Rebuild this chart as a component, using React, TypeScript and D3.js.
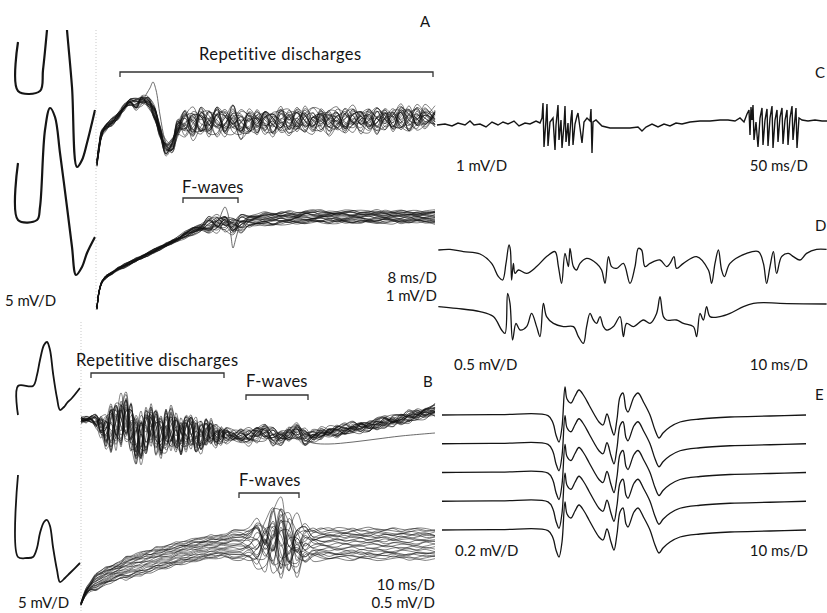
import React from 'react';
import * as d3 from 'd3';

// ---------- panel A, compressed M-waves (ms, mV) ----------
const aMwaveTop: [number, number][] = [
  [0, 4.9], [0, 0], [11, 0], [12.5, 2.1], [14.5, 6.1], [17, 12.1], [19.5, 14.1], [22, 12.1],
  [24.5, 6.1], [27, 0.4], [29.5, -7.6], [32, -6.9], [34.5, -5.2], [38.5, -1.9]
];
const aMwaveBottom: [number, number][] = [
  [0, 5.7], [0, 0], [9.5, 0], [11, 1.3], [13.5, 9], [16, 11.2], [18.5, 10.3], [21, 6.7],
  [24.5, 1.3], [27, -2.7], [29, -5.5], [32, -4.7], [34.5, -3.3], [38.5, -1.7]
];
// ---------- panel B, M-waves ----------
const bMwaveTop: [number, number][] = [
  [0, -2.9], [0, 0], [7.5, 0], [9.5, 1.1], [11, 2.6], [13, 4.1], [14.5, 4.4], [16, 3.6],
  [17.5, 1.3], [19.5, -1.2], [21, -2.4], [23, -2.1], [24.5, -1.7], [27, -1.2], [31, -0.2]
];
const bMwaveBottom: [number, number][] = [
  [0, 8.2], [0, 0], [4.5, -0.1], [7.5, 0], [9.5, 0.9], [11, 2.4], [13, 3.5], [14.5, 3.7],
  [16, 3.1], [17.5, 1.0], [19.5, -1.3], [21, -2.5], [23.5, -2.1], [26, -1.6], [31, -0.6]
];

// ---------- panel A superimposed sweeps ----------
const aKnotsMs = [0, 0.5, 1.25, 2.25, 3.75, 5.25, 6.75, 8.25, 9.75, 11.25, 12.75, 14.25, 15.75, 17.25, 18.75, 20.25,
  22, 24, 26, 28, 30, 32, 34, 36, 38, 40, 42, 44, 46, 48, 50, 52, 54, 56, 58, 60, 62, 64, 66, 68, 70, 72, 74, 76, 78, 80, 82, 84.5];
const aRepBase = [-1.9, -1.15, -0.4, -0.1, 0.15, 0.45, 0.85, 1.15, 1.05, 1.25, 1.15, 0.65, -0.35, -1.15, -1.05, -0.15,
  0.15, 0.05, 0.25, 0.05, 0.2, 0.1, 0.25, 0, 0.15, 0.1, 0.2, 0.1, 0.25, 0.15, 0.2, 0.25,
  0.2, 0.25, 0.15, 0.25, 0.2, 0.3, 0.2, 0.25, 0.25, 0.3, 0.25, 0.35, 0.3, 0.35, 0.35, 0.35];
const aRepNoise = [0.15, 0.15, 0.15, 0.15, 0.15, 0.15, 0.15, 0.15, 0.25, 0.25, 0.25, 0.35, 0.35, 0.35, 0.35, 0.45,
  0.7, 0.75, 0.75, 0.75, 0.7, 0.7, 0.7, 0.7, 0.7, 0.7, 0.7, 0.65, 0.65, 0.65, 0.65, 0.65,
  0.6, 0.6, 0.6, 0.6, 0.6, 0.6, 0.6, 0.6, 0.6, 0.6, 0.65, 0.65, 0.6, 0.6, 0.55, 0.55];
const aRepLevel = [0.1, 0.1, 0.1, 0.1, 0.1, 0.1, 0.1, 0.1, 0.1, 0.1, 0.1, 0.1, 0.1, 0.1, 0.1, 0.1,
  0.2, 0.2, 0.2, 0.2, 0.2, 0.2, 0.2, 0.2, 0.2, 0.2, 0.2, 0.2, 0.2, 0.2, 0.2, 0.2,
  0.2, 0.2, 0.2, 0.2, 0.2, 0.2, 0.2, 0.2, 0.2, 0.2, 0.2, 0.2, 0.2, 0.2, 0.2, 0.2];
const aRepOutlier: [number, number][] = [[11.25, 1.15], [12.5, 1.6], [13.25, 1.85], [14, 2.15], [14.75, 1.75],
  [15.75, 0.5], [17, -0.75], [18.25, -1.25], [20, -0.5], [22, 0.1]];

const aFBase = [-4.4, -3.6, -3.1, -2.85, -2.65, -2.45, -2.3, -2.15, -2.0, -1.85, -1.7, -1.55, -1.4, -1.25, -1.1, -0.95,
  -0.75, -0.55, -0.4, -0.25, -0.2, -0.15, -0.3, -0.15, -0.05, 0, 0.05, 0.05, 0.1, 0.1, 0.1,
  0.15, 0.15, 0.15, 0.15, 0.15, 0.15, 0.15, 0.15, 0.15, 0.15, 0.15, 0.15, 0.15, 0.15, 0.15, 0.15, 0.15];
const aFNoise = [0.06, 0.06, 0.06, 0.06, 0.06, 0.06, 0.06, 0.06, 0.06, 0.06, 0.06, 0.06, 0.06, 0.06, 0.06, 0.06,
  0.1, 0.1, 0.1, 0.4, 0.4, 0.4, 0.4, 0.4,
  0.1, 0.1, 0.1, 0.1, 0.1, 0.1, 0.1, 0.1, 0.1, 0.1, 0.1, 0.1, 0.1, 0.1, 0.1, 0.1, 0.1, 0.1, 0.1, 0.1, 0.1, 0.1, 0.1, 0.1];
const aFLevel = [0.04, 0.04, 0.04, 0.04, 0.04, 0.04, 0.08, 0.08, 0.08, 0.08, 0.08, 0.08, 0.08, 0.08, 0.08, 0.08,
  0.15, 0.15, 0.15, 0.15, 0.15, 0.15, 0.15, 0.15,
  0.3, 0.3, 0.3, 0.3, 0.3, 0.3, 0.3, 0.3, 0.3, 0.3, 0.3, 0.3, 0.3, 0.3, 0.3, 0.3, 0.3, 0.3, 0.3, 0.3, 0.3, 0.3, 0.3, 0.3];
const aFOutlier: [number, number][] = [[28, -0.25], [30.25, -0.1], [31.25, 0.4], [32, 0.65], [32.75, 0.3],
  [33.5, -0.8], [34, -1.4], [34.75, -0.9], [35.75, -0.3], [37, -0.1]];

// ---------- panel B superimposed sweeps ----------
const bKnotsMs = [0, 1.25, 2.5, 3.75, 5, 6.25, 7.5, 8.75, 10, 11.25, 12.5, 13.75, 15, 16.25, 17.5, 18.75, 20, 21.25,
  22.5, 23.75, 25, 26.25, 27.5, 28.75, 30, 31.25, 32.5, 33.75, 35, 36.25,
  38, 40, 42, 44, 46, 48, 50, 52, 54, 56, 58, 60, 62, 64, 66, 68, 70, 72, 74, 76, 78, 80, 82, 84, 86, 88.5];
const bRepBase = [0.5, 0.5, 0.55, 0.45, 0.2, -0.1, 0.1, 0.2, 0.5, 0.6, 0.1, -0.5, -0.4, 0, 0.25, -0.1, -0.4, -0.1,
  0.1, -0.15, -0.4, -0.1, 0, -0.3, -0.35, -0.15, -0.1, -0.3, -0.3, -0.25,
  -0.3, -0.3, -0.35, -0.2, -0.1, -0.3, -0.4, -0.2, -0.1, -0.35, -0.3, -0.2, -0.1, -0.05, 0, 0.1, 0.15, 0.2,
  0.3, 0.4, 0.45, 0.55, 0.65, 0.75, 0.85, 1.0];
const bRepNoise = [0.15, 0.15, 0.15, 0.3, 0.6, 0.9, 1.4, 1.4, 1.4, 1.4, 1.4, 1.4, 1.4, 1.4,
  1.2, 1.2, 1.2, 1.2, 1.2, 1.2, 1.1, 1.1, 1.0, 1.0, 0.9, 0.8, 0.7, 0.6, 0.5, 0.4,
  0.25, 0.3, 0.4, 0.4, 0.4, 0.4, 0.4, 0.4, 0.4, 0.4,
  0.25, 0.25, 0.25, 0.25, 0.25, 0.25, 0.25, 0.25, 0.25, 0.25, 0.25, 0.25, 0.25, 0.25, 0.25, 0.25];
const bRepLevel = [0.1, 0.1, 0.1, 0.1, 0.1, 0.1, 0.1, 0.1, 0.1, 0.1, 0.1, 0.1, 0.1, 0.1, 0.1, 0.1, 0.1, 0.1,
  0.1, 0.1, 0.1, 0.1, 0.1, 0.1, 0.1, 0.1, 0.1, 0.1, 0.1, 0.1,
  0.15, 0.15, 0.15, 0.15, 0.15, 0.15, 0.15, 0.15, 0.15, 0.15, 0.15, 0.15, 0.15, 0.15, 0.15, 0.15, 0.15, 0.15,
  0.15, 0.15, 0.15, 0.15, 0.15, 0.15, 0.15, 0.15];
const bRepOutlier: [number, number][] = [[54, -0.35], [58, -0.65], [62, -0.7], [68, -0.6], [74, -0.45], [80, -0.3], [88.5, -0.15]];

const bFBase = [-2.95, -2.35, -2.05, -1.85, -1.7, -1.55, -1.45, -1.35, -1.25, -1.15, -1.1, -1.0, -0.95, -0.85,
  -0.8, -0.7, -0.65, -0.6, -0.55, -0.45, -0.4, -0.35, -0.3, -0.25, -0.2, -0.15, -0.1, -0.1, -0.05, -0.05,
  0, 0, 0.05, 0.1, 0.1, 0.25, 0.25, -0.15, -0.05, 0.05, 0.05,
  0.05, 0.05, 0.05, 0.05, 0.05, 0.05, 0.05, 0.05, 0.05, 0.05, 0.05, 0.05, 0.05, 0.05, 0.05];
const bFNoise = [0.05, 0.05, 0.05, 0.05, 0.05, 0.05, 0.05, 0.05, 0.05, 0.05, 0.05, 0.05, 0.05, 0.05, 0.05, 0.05,
  0.05, 0.05, 0.05, 0.05, 0.05, 0.05, 0.05, 0.05, 0.05, 0.05, 0.05, 0.05, 0.05, 0.05, 0.05, 0.05,
  0.3, 0.6, 1.0, 1.4, 1.8, 1.6, 1.0, 0.5, 0.2,
  0.1, 0.1, 0.1, 0.1, 0.1, 0.1, 0.1, 0.1, 0.1, 0.1, 0.1, 0.1, 0.1, 0.1, 0.1];
const bFLevel = [0.05, 0.15, 0.25, 0.45, 0.45, 0.45, 0.45, 0.45, 0.45,
  0.6, 0.6, 0.6, 0.6, 0.6, 0.6, 0.6, 0.6, 0.6, 0.6, 0.6, 0.6, 0.6, 0.6, 0.6, 0.6, 0.6, 0.6, 0.6, 0.6, 0.6,
  0.8, 0.8, 0.8, 0.8, 0.8, 0.8, 0.8, 0.8, 0.8, 0.8, 0.8, 0.8, 0.8, 0.8, 0.8, 0.8, 0.8, 0.8, 0.8, 0.8,
  0.8, 0.8, 0.8, 0.8, 0.8, 0.8];

// per-sweep level and wiggle (tenths), read as two sets of overlaid sweeps
const sweepLevels = [0.9, -0.4, 0.2, -0.8, 0.5, -0.1, 0.7, -0.6, 0.0, 0.35, -0.95, 0.6];
const sweepLevels2 = [-0.3, 0.8, -0.7, 0.1, -0.5, 0.95, -0.2, 0.45, -0.85, 0.6, 0.25, -0.6];
const sweepJitter = [
  [3, -5, 7, -2, -8, 4, 6, -3, 1, -7, 5, 8, -4, -1, 6, -6, 2, 9, -5, -3, 7, -8, 0, 4, -2, 6, -9, 3, 5, -4, -7, 2, 8, -1, -5, 6, 3, -6, 4, -2, 7, -3, -8, 5, 1, -4, 6, -7, 2, 9, -5, 3, -1, -6, 4, 7],
  [-4, 6, -1, 8, -3, -7, 2, 5, -6, 3, 9, -2, -5, 7, 0, -8, 4, -3, 6, 1, -9, 5, -2, 7, -4, -6, 3, 8, -1, 5, -7, 4, -3, 9, 2, -5, -8, 6, 1, -4, 3, 7, -6, -2, 8, -5, 4, 0, -7, 3, 6, -3, -8, 5, 2, -4],
  [7, 2, -6, -4, 5, 9, -3, -8, 6, 0, -5, 4, 7, -9, 3, 5, -2, -6, 8, -1, 4, -7, 6, 2, -5, 9, -3, -8, 4, 1, 6, -5, -2, 7, -8, 3, 5, -4, -9, 6, 2, -1, 4, -7, -3, 8, -6, 5, 1, -2, -8, 7, 4, -3, 6, -5],
  [-2, -8, 4, 6, -1, -5, 9, 2, -7, 4, -3, -6, 8, 1, -4, 7, 5, -9, -2, 6, 3, -5, -8, 4, 7, -1, 5, -6, -3, 8, 2, -7, 6, 4, -5, -2, 9, 1, -6, -8, 5, 3, -4, 7, -1, -6, 8, 2, -9, 4, 5, -3, 6, -7, -1, 3],
  [5, -3, -9, 1, 7, -4, -2, 6, 8, -5, 2, -1, -7, 4, 9, -3, -6, 5, 1, -8, 7, 3, -4, -6, 8, 2, -5, 1, 9, -7, -4, 6, -1, -3, 8, 5, -7, 2, 6, -9, -4, 7, 1, -5, 3, 6, -2, -8, 4, 9, -6, -1, 5, 2, -7, 8],
  [-6, 4, 2, -9, -3, 8, 5, -1, -4, 7, -8, 3, 6, -2, -5, 1, 8, -4, -7, 9, -1, -3, 5, 8, -6, -2, 7, 4, -8, -3, 9, -5, 1, 6, -4, -7, 2, 8, -3, 5, -6, 1, 9, -2, -5, 4, -8, 6, 3, -7, 1, 8, -4, -6, 5, -2],
  [1, 8, -5, 3, 6, -2, -9, 4, 3, -6, 7, 5, -3, -8, 2, 6, -7, 1, 4, -5, 8, -6, -3, 9, 2, -4, -7, 6, 3, -8, 5, 1, -6, -2, 7, -9, 4, 6, -5, 2, 8, -3, -7, 4, -1, 9, 2, -6, -4, 5, 8, -5, -2, 7, 3, -9],
  [-8, -1, 6, 5, -7, 2, 3, -6, -5, 9, 1, -4, -2, 6, -8, -3, 7, 2, -6, 4, -2, 9, -7, -5, 3, 5, -1, -9, 7, 4, -3, -6, 5, 1, -2, 8, -4, -3, 7, 9, -7, -4, 2, 6, -8, -3, 5, -1, 7, -4, -3, 9, -6, 1, -8, 4],
  [4, -7, -2, 9, 2, -6, 7, -9, -2, 5, 6, -8, 3, 4, -6, 9, -4, -7, 5, 3, -5, -1, 8, -3, -8, 6, 4, -2, -6, 9, -1, -4, 7, -8, 3, 6, -5, -1, 8, -4, -2, 5, -9, 3, 7, -1, -6, 4, 5, -9, 2, 6, -3, -5, 8, -1],
  [-3, 5, 8, -6, -4, 1, -5, 7, 9, -3, -6, 2, -9, 5, 1, -4, 3, 6, -8, -2, 9, 4, -6, 1, 5, -8, 2, 6, -4, -5, 8, 3, -9, 2, 5, -3, -6, 7, 2, -7, 6, -5, 3, 8, -6, -2, 1, -9, 6, 2, -4, -7, 8, 3, -2, 5],
  [6, -2, -4, -7, 8, 3, -1, 5, -9, -4, 3, 7, 1, -6, 7, -5, -8, 3, 6, -4, -6, 8, 2, -7, -3, 4, 8, -5, 1, -6, 3, 7, -4, -5, 6, 2, -1, -8, 5, 3, -9, 8, 5, -6, 2, -7, -3, 7, -5, 1, 9, -4, -5, 6, -3, 2],
  [-5, 3, 1, 4, -6, -9, 8, 1, 4, -8, -2, 6, 5, -3, -7, 4, 6, -8, 3, 7, -4, -2, 9, -6, 1, -7, 5, 2, -8, 3, -6, 9, -2, -7, 4, 1, 6, -5, -3, 7, -8, 2, 4, -3, 9, -8, 6, -4, -2, 7, -5, 3, -9, 6, 4, -6]
];

// ---------- panel C (ms, mV) ----------
const cTrace: [number, number][] = [
  [0, -0.15], [16, -0.1], [30, -0.2], [42, -0.05], [56, -0.15], [66, 0.05], [74, -0.15], [86, -0.1], [98, -0.25],
  [110, 0], [122, -0.15], [132, 0], [142, -0.1], [154, 0.05], [164, -0.2], [176, -0.05], [186, -0.1], [198, 0.05],
  [206, -0.05], [210, 0.2], [212, 0.95], [214, -1.25], [218, 0.1], [220, 0.9], [222, -1.2], [226, 0], [232, 0.2],
  [236, -1.4], [238, -0.15], [242, 0.85], [244, -0.9], [248, 0.1], [250, -1.3], [254, -0.15], [256, 0.8], [258, -1.0],
  [262, -0.05], [264, -1.2], [268, 0.2], [270, 0.6], [272, -1.15], [276, -0.1], [280, 0.3], [282, 0.45], [286, -0.3],
  [290, -1.05], [294, 0], [300, 0.2], [306, 0.05], [308, 0.65], [310, -1.55], [312, 0], [318, 0.1], [330, -0.2],
  [346, -0.3], [366, -0.3], [386, -0.3], [402, -0.25], [410, -0.45], [418, -0.25], [430, -0.1], [442, -0.25],
  [454, -0.1], [466, -0.2], [478, -0.05], [490, -0.1], [506, 0], [526, 0.05], [546, 0.05], [566, 0.1], [582, 0.1],
  [596, 0.05], [606, 0.2], [614, 0], [620, 0.4], [624, 0.6], [626, -0.65], [628, 0.75], [630, 0.1], [632, 0.85],
  [634, -0.9], [638, 0], [642, -1.25], [646, 0.2], [650, 0.7], [652, -1.15], [656, 0.1], [660, 0.65], [662, -1.2],
  [666, 0.2], [670, 0.8], [672, -1.3], [676, 0.1], [680, 0.6], [682, -1.0], [686, 0.25], [690, 0.7], [692, -1.1],
  [696, 0.1], [700, 0.6], [702, -1.15], [706, 0.2], [710, 0.8], [712, -0.9], [716, 0.2], [718, 0.7], [720, -1.3],
  [724, 0.2], [730, 0.1], [742, 0.05], [756, 0.1], [770, 0.05], [780, 0.05]
];

// ---------- panel D ----------
const dTraceTop: [number, number][] = [
  [0.67, 0.1], [6.5, 0.13], [13.2, 0.02], [21.5, -0.1], [27.3, -0.57], [30.7, -1.23], [32.8, -1.4], [34.5, -0.57],
  [36, 0.35], [36.7, 0.1], [37.3, -1.4], [38.2, -0.57], [39, -1.07], [40.7, -0.9], [44.8, -1.07], [49.8, -0.73],
  [54.8, -0.23], [59, 0.02], [60.7, -0.73], [62.3, -1.57], [64, -0.07], [65.7, -0.73], [66.5, 0.18], [68.2, -0.73],
  [69.8, -0.9], [71.5, -0.57], [74.8, -0.32], [79.8, -0.57], [82.3, -0.9], [84, -1.57], [85.7, -0.23], [87.3, -0.73],
  [89.8, -0.82], [93.2, -0.57], [96.5, -1.57], [99, -0.73], [100.7, 0.18], [102.3, 0.1], [104, -0.73], [106.5, -0.57],
  [111.5, -0.4], [114.8, -0.73], [116.5, -0.57], [118.5, -0.23], [119.8, -0.82], [123.2, -0.57], [129.8, -0.23],
  [135.7, -0.9], [137.3, -1.57], [139, -0.57], [140.7, 0.1], [142.3, -0.9], [143.7, -1.23], [146.5, -0.57],
  [154.8, -0.07], [160.7, 0.02], [163.2, -0.57], [164.8, -1.57], [166.5, -0.73], [168.2, 0.02], [169.8, -1.07],
  [172.3, -0.23], [175.7, -0.07], [178.2, -0.23], [181.5, -0.4], [184.8, -0.07], [189.8, 0.13], [194.8, 0.13]
];
const dTraceBottom: [number, number][] = [
  [0.67, -0.18], [9.8, -0.27], [21.5, -0.43], [28.2, -0.68], [32.3, -1.35], [34, -1.52], [35.3, 0.48], [36.5, -0.02],
  [37.8, -1.85], [39.5, -1.02], [41.5, -1.35], [44.8, -1.18], [47.3, -0.52], [49.8, -1.18], [51.5, -1.68],
  [53.2, -0.02], [54.8, -0.68], [58.2, -1.02], [63.2, -1.18], [68.2, -1.18], [70.7, -1.68], [73.2, -2.02],
  [74.8, -1.18], [76.5, -0.52], [78.2, -0.85], [79.8, -1.02], [81.5, -0.68], [83.2, -1.18], [84.8, -1.35],
  [88.2, -1.18], [91.5, -0.68], [93.2, -1.68], [94.8, -1.02], [98.2, -1.18], [103.2, -0.85], [106.5, -1.02],
  [109.8, -0.52], [111.5, 0.32], [113.2, -0.68], [114.8, -0.85], [119.8, -0.85], [123.2, -1.02], [128.2, -1.18],
  [129.8, -1.68], [131.5, -0.52], [133.2, -0.85], [134.8, -0.18], [136.5, -0.68], [141.5, -0.68], [146.5, -0.52],
  [153.2, -0.18], [158.2, -0.02], [163.2, 0.02], [171.5, -0.02], [194.8, -0.05]
];

// ---------- panel E, five repeated responses ----------
const eWave: [number, number][] = [
  [0, 0], [14.5, 0.02], [26.5, -0.03], [27.75, -0.4], [28.5, -1.0], [29.25, -1.35], [30, -0.6], [30.75, 1.4],
  [31.25, 0.8], [32.25, 0.6], [33.25, 0.95], [34.25, 1.25], [35.5, 0.95], [36.75, 0.5], [38, 0.05], [39.25, -0.35],
  [40.25, -0.5], [41.25, 0.05], [42.25, -0.6], [43, -1.0], [43.75, -0.2], [44.5, 0.9], [45.25, 1.1], [46, 0.3],
  [46.5, 0.15], [48, 0.9], [49, 1.1], [50.5, 0.6], [52, 0], [53.25, -0.75], [54.25, -1.15], [55.25, -0.9], [57, -0.6],
  [59.5, -0.35], [64.5, -0.2], [72, -0.1], [82, -0.05], [91, 0]
];
const eRows = ['1', '2', '3', '4', '5'];

const W = 827, H = 613;
const FONT = "Lato, 'Open Sans', sans-serif";
const INK = '#151515';

const yAt = (base: number, pxPerUnit: number) => d3.scaleLinear().domain([0, 1]).range([base, base - pxPerUnit]);

function makeLine(x: d3.ScaleLinear<number, number>, y: d3.ScaleLinear<number, number>, curve: d3.CurveFactory = d3.curveCatmullRom.alpha(0.5)) {
  return d3.line<[number, number]>().x(d => x(d[0])).y(d => y(d[1])).curve(curve);
}

// one path per recorded sweep: shared response + that sweep's level and wiggle
function sweeps(knots: number[], base: number[], noise: number[], level: number[], offset: number): [number, number][][] {
  const sets: [number[], number][] = [[sweepLevels, offset], [sweepLevels2, offset + 29]];
  const out: [number, number][][] = [];
  sets.forEach(([levels, off]) => {
    sweepJitter.forEach((row, s) => {
      out.push(knots.map((t, i) => [t, base[i] + level[i] * levels[s] + noise[i] * row[(i + off) % row.length] / 10] as [number, number]));
    });
  });
  return out;
}

function Bracket({ x1, x2, y }: { x1: number; x2: number; y: number }) {
  return <path d={`M${x1},${y + 5}V${y}H${x2}V${y + 5}`} fill="none" stroke="#333" strokeWidth={1.3} />;
}

function Label({ x, y, children, anchor = 'start', size = 15, spacing = 0 }: { x: number; y: number; children: React.ReactNode; anchor?: string; size?: number; spacing?: number }) {
  return <text x={x} y={y} textAnchor={anchor} fontFamily={FONT} fontSize={size} letterSpacing={spacing} fill={INK}>{children}</text>;
}

export default function App() {
  // panel A scales
  const axM = d3.scaleLinear().domain([0, 39]).range([18, 96]);
  const ax = d3.scaleLinear().domain([0, 84.5]).range([97, 435]);
  const aLineTop = makeLine(axM, yAt(91, 10));
  const aLineBottom = makeLine(axM, yAt(220, 10));
  const aRep = makeLine(ax, yAt(125, 20));
  const aF = makeLine(ax, yAt(220, 20));
  // panel B scales
  const bxM = d3.scaleLinear().domain([0, 31]).range([18, 80]);
  const bx = d3.scaleLinear().domain([0, 88.5]).range([81, 435]);
  const bLineTop = makeLine(bxM, yAt(386, 10));
  const bLineBottom = makeLine(bxM, yAt(557, 10));
  const bRep = makeLine(bx, yAt(430, 20));
  const bF = makeLine(bx, yAt(545, 20));
  // right column
  const cx = d3.scaleLinear().domain([0, 780]).range([437, 827]);
  const cLine = makeLine(cx, yAt(122, 20), d3.curveLinear);
  const dx = d3.scaleLinear().domain([0, 195]).range([437, 827]);
  const dTop = makeLine(dx, yAt(252, 20));
  const dBot = makeLine(dx, yAt(303, 20));
  const ex = d3.scaleLinear().domain([0, 91]).range([442, 806]);
  const eBand = d3.scalePoint<string>().domain(eRows).range([415, 530]);

  const sweepStyle = { fill: 'none', stroke: '#111', strokeWidth: 0.7, strokeOpacity: 0.75 };
  const outlierStyle = { fill: 'none', stroke: '#444', strokeWidth: 0.8 };
  const thick = { fill: 'none', stroke: INK, strokeWidth: 2.2, strokeLinejoin: 'round' as const };

  return (
    <svg width={W} height={H} style={{ position: 'absolute', left: 0, top: 0, background: '#fff' }}>
      <defs>
        <clipPath id="clipAM"><rect x={0} y={30} width={96} height={280} /></clipPath>
      </defs>
      <rect width={W} height={H} fill="#fff" />

      {/* ---------- A ---------- */}
      <g clipPath="url(#clipAM)">
        <path d={aLineTop(aMwaveTop) || ''} {...thick} />
        <path d={aLineBottom(aMwaveBottom) || ''} {...thick} />
      </g>
      <line x1={96} x2={96} y1={30} y2={310} stroke="#bbb" strokeWidth={0.8} strokeDasharray="1 2" />
      {sweeps(aKnotsMs, aRepBase, aRepNoise, aRepLevel, 0).map((s, i) => <path key={'ar' + i} d={aRep(s) || ''} {...sweepStyle} />)}
      <path d={aRep(aRepOutlier) || ''} {...outlierStyle} />
      {sweeps(aKnotsMs, aFBase, aFNoise, aFLevel, 17).map((s, i) => <path key={'af' + i} d={aF(s) || ''} {...sweepStyle} />)}
      <path d={aF(aFOutlier) || ''} {...outlierStyle} />
      <Label x={420} y={27}>A</Label>
      <Label x={199} y={60} size={16.5} spacing={0.45}>Repetitive discharges</Label>
      <Bracket x1={120} x2={433} y={72} />
      <Label x={182} y={193} size={16.5} spacing={0.2}>F-waves</Label>
      <Bracket x1={183} x2={238} y={198} />
      <Label x={437} y={283} anchor="end">8 ms/D</Label>
      <Label x={437} y={301} anchor="end">1 mV/D</Label>
      <Label x={5} y={306}>5 mV/D</Label>

      {/* ---------- B ---------- */}
      <path d={bLineTop(bMwaveTop) || ''} {...thick} strokeWidth={1.8} />
      <path d={bLineBottom(bMwaveBottom) || ''} {...thick} strokeWidth={1.8} />
      <line x1={81} x2={81} y1={322} y2={613} stroke="#bbb" strokeWidth={0.8} strokeDasharray="1 2" />
      {sweeps(bKnotsMs, bRepBase, bRepNoise, bRepLevel, 5).map((s, i) => <path key={'br' + i} d={bRep(s) || ''} {...sweepStyle} />)}
      <path d={bRep(bRepOutlier) || ''} {...outlierStyle} />
      {sweeps(bKnotsMs, bFBase, bFNoise, bFLevel, 31).map((s, i) => <path key={'bf' + i} d={bF(s) || ''} {...sweepStyle} />)}
      <Label x={76} y={366} size={16.5} spacing={0.45}>Repetitive discharges</Label>
      <Bracket x1={91} x2={224} y={373} />
      <Label x={246} y={387} size={16.5} spacing={0.2}>F-waves</Label>
      <Bracket x1={246} x2={308} y={395} />
      <Label x={423} y={387}>B</Label>
      <Label x={239} y={486} size={16.5} spacing={0.2}>F-waves</Label>
      <Bracket x1={239} x2={299} y={493} />
      <Label x={435} y={590} anchor="end">10 ms/D</Label>
      <Label x={435} y={608} anchor="end">0.5 mV/D</Label>
      <Label x={18} y={608}>5 mV/D</Label>

      {/* ---------- C ---------- */}
      <path d={cLine(cTrace) || ''} fill="none" stroke={INK} strokeWidth={1.4} />
      <Label x={456} y={171}>1 mV/D</Label>
      <Label x={808} y={171} anchor="end">50 ms/D</Label>
      <Label x={815} y={78}>C</Label>

      {/* ---------- D ---------- */}
      <path d={dTop(dTraceTop) || ''} fill="none" stroke={INK} strokeWidth={1.3} />
      <path d={dBot(dTraceBottom) || ''} fill="none" stroke={INK} strokeWidth={1.3} />
      <Label x={454} y={370}>0.5 mV/D</Label>
      <Label x={808} y={370} anchor="end">10 ms/D</Label>
      <Label x={815} y={231}>D</Label>

      {/* ---------- E ---------- */}
      {eRows.map(r => (
        <path key={'e' + r} d={makeLine(ex, yAt(eBand(r) as number, 20))(eWave) || ''} fill="none" stroke={INK} strokeWidth={1.3} />
      ))}
      <Label x={455} y={556}>0.2 mV/D</Label>
      <Label x={808} y={556} anchor="end">10 ms/D</Label>
      <Label x={815} y={400}>E</Label>
    </svg>
  );
}
